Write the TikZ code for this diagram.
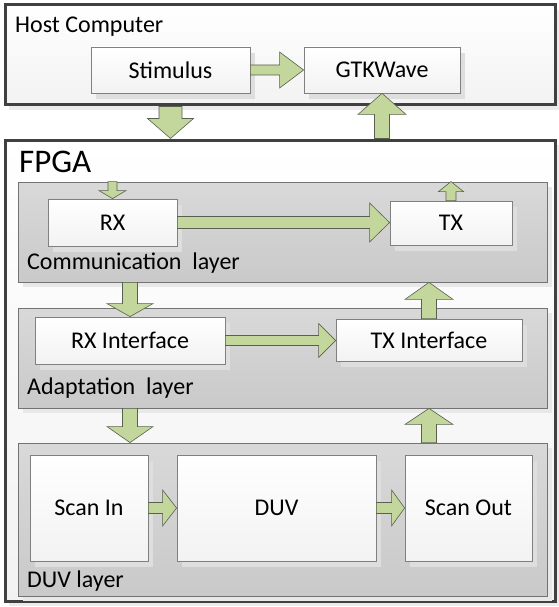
\documentclass[tikz,border=0pt]{standalone}
\usepackage{fontspec}
\setmainfont{Carlito}
\usetikzlibrary{calc,shadows}
\definecolor{arrowgreen}{RGB}{195,214,155}
\definecolor{arrowline}{RGB}{90,96,80}
\definecolor{outerline}{RGB}{64,64,64}
% horizontal block arrow: from, to, shaft width, head height, head length
\newcommand\harrow[5]{\draw[barrow] let \p1=(#1), \p2=(#2) in
 (\x1,\y1+#3/2) -- (\x2-#5,\y1+#3/2) -- (\x2-#5,\y1+#4/2) -- (\x2,\y1) --
 (\x2-#5,\y1-#4/2) -- (\x2-#5,\y1-#3/2) -- (\x1,\y1-#3/2) -- cycle;}
% vertical block arrow: from, to, shaft width, head width, signed head length
\newcommand\varrow[5]{\draw[barrow] let \p1=(#1), \p2=(#2) in
 (\x1-#3/2,\y1) -- (\x1-#3/2,\y2+#5) -- (\x1-#4/2,\y2+#5) -- (\x1,\y2) --
 (\x1+#4/2,\y2+#5) -- (\x1+#3/2,\y2+#5) -- (\x1+#3/2,\y1) -- cycle;}
\begin{document}
\begin{tikzpicture}[x=1pt,y=-1pt,
 outerbox/.style={draw=outerline, line width=3pt, top color=white, bottom color=black!5,
   general shadow={fill=black!8, shadow xshift=4pt, shadow yshift=-5pt}, inner sep=0},
 layerbox/.style={draw=black!55, line width=0.8pt, top color=black!15, bottom color=black!21,
   general shadow={fill=black!9, shadow xshift=5pt, shadow yshift=-5pt}, inner sep=0},
 whitebox/.style={draw=black!50, line width=0.8pt, top color=white, bottom color=black!5,
   general shadow={fill=black!13, shadow xshift=5pt, shadow yshift=-6pt},
   font=\fontsize{24}{29}\selectfont, inner sep=0},
 lbl/.style={font=\fontsize{24}{29}\selectfont, inner sep=0, anchor=base west},
 barrow/.style={fill=arrowgreen, draw=arrowline, line width=0.6pt, line join=miter}]
\useasboundingbox (0,0) rectangle (558,607);
\fill[white] (0,0) rectangle (558,607);

% outer boxes
\node[outerbox, minimum width=550pt, minimum height=100pt] (host) at (280,55) {};
\node[outerbox, minimum width=550pt, minimum height=461pt] (fpga) at (280,370.5) {};
\node[lbl] (hostlbl) at (15,33) {Host Computer};
\node[lbl, font=\fontsize{33}{40}\selectfont] (fpgalbl) at (19,172) {FPGA};

% layers
\node[layerbox, minimum width=529pt, minimum height=100pt] (comm) at (282.5,232) {};
\node[layerbox, minimum width=529pt, minimum height=100pt] (adapt) at (282.5,358) {};
\node[layerbox, minimum width=529pt, minimum height=153pt] (duvl) at (282.5,519.5) {};
\node[lbl] (commlbl) at (27,269) {Communication~ layer};
\node[lbl] (adaptlbl) at (27,394) {Adaptation~ layer};
\node[lbl] (duvlbl) at (27,587) {DUV layer};

% blocks
\node[whitebox, minimum width=159pt, minimum height=46pt] (stim) at (170.5,70) {Stimulus};
\node[whitebox, minimum width=156pt, minimum height=46pt] (gtk) at (382,70) {GTKWave};
\node[whitebox, minimum width=129pt, minimum height=47pt] (rx) at (112.5,222.5) {RX};
\node[whitebox, minimum width=122pt, minimum height=44pt] (tx) at (451,223) {TX};
\node[whitebox, minimum width=190pt, minimum height=47pt] (rxi) at (130,340.5) {RX Interface};
\node[whitebox, minimum width=186pt, minimum height=42pt] (txi) at (429,340) {TX Interface};
\node[whitebox, minimum width=118pt, minimum height=106pt] (scanin) at (89,508) {Scan In};
\node[whitebox, minimum width=199pt, minimum height=106pt] (duv) at (276.5,508) {DUV};
\node[whitebox, minimum width=127pt, minimum height=106pt] (scanout) at (468.5,508) {Scan Out};

% arrows
\harrow{stim.east}{gtk.west}{10pt}{36pt}{24pt}
\varrow{stim.south |- host.south}{stim.south |- fpga.north}{23pt}{46pt}{20pt}
\varrow{gtk.south |- fpga.north}{gtk.south}{15pt}{48pt}{-21pt}
\varrow{rx.north |- comm.north}{rx.north}{9pt}{27pt}{8pt}
\harrow{rx.east}{tx.west}{12pt}{39pt}{20pt}
\varrow{tx.north}{tx.north |- comm.north}{10pt}{25pt}{-10pt}
\varrow{rxi.north |- comm.south}{rxi.north}{15pt}{46pt}{13pt}
\harrow{rxi.east}{txi.west}{10pt}{34pt}{17pt}
\varrow{txi.north}{txi.north |- comm.south}{15pt}{48pt}{-17pt}
\varrow{rxi.south |- adapt.south}{rxi.south |- duvl.north}{15pt}{46pt}{16pt}
\varrow{txi.south |- duvl.north}{txi.south |- adapt.south}{15pt}{48pt}{-16pt}
\harrow{scanin.east}{duv.west}{11pt}{36pt}{14pt}
\harrow{duv.east}{scanout.west}{11pt}{36pt}{13pt}
\end{tikzpicture}
\end{document}
